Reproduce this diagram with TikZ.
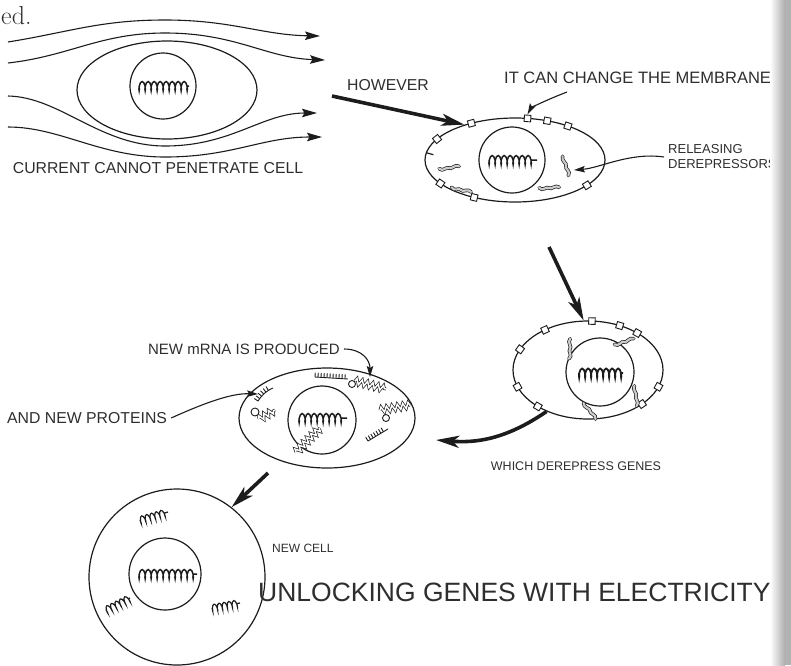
\documentclass[tikz,border=0pt]{standalone}
\usepackage{fontspec}
\newfontfamily\lab{Liberation Sans}
\usetikzlibrary{arrows.meta,decorations.pathmorphing,decorations.pathreplacing,calc,shapes.geometric}
\definecolor{ink}{HTML}{1C1C1C}
\definecolor{txt}{HTML}{2E2E2E}
\begin{document}
\begin{tikzpicture}[x=1pt,y=-1pt,
  line/.style={draw=ink, line width=1.1pt},
  flow/.style={line, -{Stealth[length=15pt,width=8.5pt,inset=2.5pt]}},
  ptr/.style={line, -{Stealth[length=11pt,width=6.5pt,inset=2pt]}},
  bigarrow/.style={draw=ink, line width=3.6pt, -{Stealth[length=23pt,width=12pt,inset=6pt]}},
  lbl/.style={text=txt, inner sep=0pt, font=\lab\fontsize{15.8}{19}\selectfont},
  small/.style={lbl, font=\lab\fontsize{12.5}{15}\selectfont},
  wall/.style={draw=ink, line width=1.2pt},
  chrom/.style={draw=ink, line width=1.5pt, decorate, decoration={coil, aspect=0.3, segment length=6pt, amplitude=-4.5pt}},
  mini/.style={draw=ink, line width=1.2pt, decorate, decoration={coil, aspect=0.3, segment length=5pt, amplitude=-3.5pt}},
  comb/.style={draw=ink, line width=0.9pt, postaction={draw=ink, line width=0.9pt, decorate, decoration={border, segment length=3pt, amplitude=4.5pt, angle=90}}},
  prot/.style={draw=ink, line width=0.7pt, double=white, double distance=1.5pt, decorate, decoration={zigzag, segment length=5.5pt, amplitude=2.8pt}},
  mbox/.style={draw=ink, fill=white, line width=0.9pt, minimum size=6.5pt, inner sep=0pt},
  rib/.style={draw=ink, fill=white, line width=0.9pt},
  drp/.pic={\draw[ink, line width=0.7pt, double=gray!40, double distance=2.2pt, line cap=round]
     (-9,4) .. controls (-4,6) and (-3,-1) .. (0,0) .. controls (3,1) and (4,-6) .. (9,-5);},
]
\useasboundingbox (0,0) rectangle (791,665);

% page text carried over from the line above
\node[anchor=base west, inner sep=0pt, font=\fontsize{26}{26}\selectfont, text=txt] (ed) at (1,24) {ed.};

% ---------- cell 1: current flows round it ----------
\coordinate (c1) at (167,90);
\node[wall, ellipse, minimum width=180pt, minimum height=98pt, inner sep=0pt] (cell1) at (c1) {};
\node[wall, circle, minimum size=66pt, inner sep=0pt] (nuc1) at (163,86) {};
\coordinate (g1a) at (139,86); \coordinate (g1b) at (189,86);
\draw[chrom] (g1a) -- (g1b);

\coordinate (f1a) at (8,42);  \coordinate (f1b) at (320,36);
\coordinate (f2a) at (8,63);  \coordinate (f2b) at (325,60);
\coordinate (f3a) at (8,96);  \coordinate (f3b) at (317,113);
\coordinate (f4a) at (8,127); \coordinate (f4b) at (322,137);
\draw[flow] (f1a) .. controls (70,32) and (100,20) .. (165,20) .. controls (232,20) and (262,35) .. (f1b);
\draw[flow] (f2a) .. controls (70,56) and (100,33) .. (165,33) .. controls (236,33) and (266,58) .. (f2b);
\draw[flow] (f3a) .. controls (60,97) and (100,146) .. (165,146) .. controls (232,146) and (262,113) .. (f3b);
\draw[flow] (f4a) .. controls (60,127) and (100,157) .. (165,157) .. controls (232,157) and (262,137) .. (f4b);

\node[lbl] (tcur) at (158,168) {CURRENT CANNOT PENETRATE CELL};

% ---------- cell 2: membrane changed ----------
\node[lbl] (thow) at (388,85) {HOWEVER};
\coordinate (a1s) at (332,96);
\coordinate (c2) at (515,160);
\node[wall, ellipse, minimum width=180pt, minimum height=84pt, inner sep=0pt] (cell2) at (c2) {};
\node[wall, circle, minimum size=66pt, inner sep=0pt] (nuc2) at (512,160) {};
\draw[bigarrow] (a1s) -- (cell2.145);
\draw[chrom] (489,160) -- (537,160);
\foreach \t in {82,69,54,119,150,214,243,323}
  \node[mbox, rotate={atan2(sin(\t)/42, cos(\t)/90)}] at ($(c2)+(-\t:90 and 42)$) {};
\draw[ink, line width=1.2pt] ($(c2)+(-170:90 and 42)$) -- ++(7,2);
\pic[rotate=-20] at (449,168) {drp};
\pic[rotate=-40] at (461,190) {drp};
\pic[rotate=80]  at (566,166) {drp};
\pic[rotate=-25] at (549,188) {drp};

\node[lbl, anchor=west, font=\lab\fontsize{16.5}{19}\selectfont] (tmem) at (504,78) {IT CAN CHANGE THE MEMBRANE};
\coordinate (m2) at ($(c2)+(-82:90 and 42)$);
\draw[ptr] (567,92) .. controls (546,100) and (531,108) .. ($(m2)+(0,-4)$);

\node[small, anchor=west, align=left, font=\lab\fontsize{13}{15}\selectfont] (trel) at (668,157) {RELEASING\\DEREPRESSORS};
\draw[ptr] ([xshift=-4pt]trel.west) .. controls (630,152) and (600,168) .. (574,170);

% ---------- cell 3: derepressors reach the nucleus ----------
\coordinate (c3) at (588,370);
\node[wall, ellipse, minimum width=150pt, minimum height=98pt, inner sep=0pt] (cell3) at (c3) {};
\node[wall, circle, minimum size=68pt, inner sep=0pt] (nuc3) at (600,372) {};
\draw[bigarrow] (549,247) -- (cell3.95);
\draw[chrom, line width=1.8pt] (579,373) -- (623,373);
\foreach \t in {125,87,65,49,155,200,228,316,340}
  \node[mbox, rotate={atan2(sin(\t)/49, cos(\t)/75)}] at ($(c3)+(-\t:75 and 49)$) {};
\pic[rotate=60]  at (570,349) {drp};
\pic[rotate=-10] at (624,342) {drp};
\pic[rotate=70]  at (636,396) {drp};
\pic[rotate=100] at (590,411) {drp};

\node[small] (twhi) at (576,466) {WHICH DEREPRESS GENES};

% ---------- cell 4: new mRNA and proteins ----------
\coordinate (c4) at (327,418);
\node[wall, ellipse, minimum width=176pt, minimum height=100pt, inner sep=0pt] (cell4) at (c4) {};
\node[wall, circle, minimum size=68pt, inner sep=0pt] (nuc4) at (322,420) {};
\coordinate (a3e) at (436,440);
\draw[bigarrow] (cell3.225) .. controls (505,440) and (475,443) .. (a3e);
\draw[chrom] (299,418) -- (347,418);
\draw[prot] (296,452) -- (320,428);
% top
\draw[comb] (315,377) -- (348,379);
\draw[prot] (355,381) -- (386,389);
\draw[rib] (352,384) circle (3.5);
% left
\draw[comb] (258,401) .. controls (262,395) and (266,391) .. (273,388);
\draw[prot] (259,419) -- (275,410);
\draw[rib] (255,412) circle (4);
% right
\draw[prot] (380,410) -- (410,405);
\draw[rib] (386,418) circle (3.5);
\draw[comb] (368,441) -- (388,429);

\node[lbl, anchor=east, font=\lab\fontsize{15}{18}\selectfont] (tmrna) at (340,349) {NEW mRNA IS PRODUCED};
\draw[ptr] ([xshift=4pt]tmrna.east) .. controls (362,349) and (370,360) .. (370,377);
\node[lbl, anchor=west] (tprot) at (7,418) {AND NEW PROTEINS};
\draw[ptr] ([xshift=4pt]tprot.east) .. controls (200,405) and (230,393) .. (258,394);

% ---------- cell 5: new cell ----------
\coordinate (c5) at (177,577);
\node[wall, circle, minimum size=176pt, inner sep=0pt] (cell5) at (c5) {};
\node[wall, circle, minimum size=72pt, inner sep=0pt] (nuc5) at (165,574) {};
\draw[bigarrow] (268,473) -- (cell5.52);
\draw[chrom] (139,574) -- (197,574);
\draw[mini] (140,520) -- (168,512);
\draw[mini] (106,610) -- (130,598);
\draw[mini] (212,608) -- (240,603);

\node[small, anchor=west, font=\lab\fontsize{12}{14}\selectfont] (tnew) at (272,548) {NEW CELL};
\node[lbl, anchor=west, font=\lab\fontsize{26.5}{30}\selectfont] (ttitle) at (258,592) {UNLOCKING GENES WITH ELECTRICITY};

% shadow of the book's gutter at the right edge
\shade[left color=white, right color=black!32] (770,0) rectangle (785,665);
\fill[black!30] (785,0) rectangle (791,665);
\end{tikzpicture}
\end{document}
